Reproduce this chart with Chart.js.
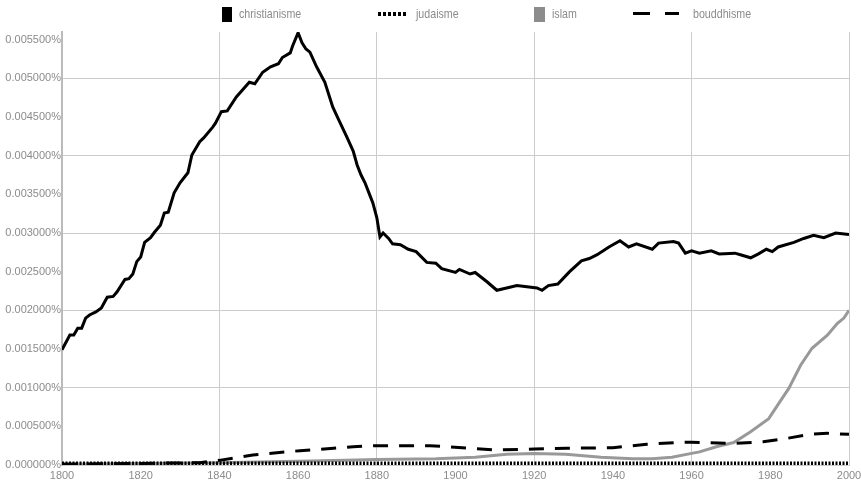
<!DOCTYPE html>
<html>
<head>
<meta charset="utf-8">
<script src="https://cdn.jsdelivr.net/npm/chart.js@4"></script>
<style>
  body { margin: 0; background: #fff; }
  #wrap { position: relative; width: 861px; height: 484px; }
  #legend span { position: absolute; }
  .lbl { font-family: "Liberation Sans", Arial, sans-serif; font-size: 13px; line-height: 13px; color: #8c8c8c; top: 7px; white-space: nowrap; transform: scaleX(0.82); transform-origin: 0 50%; }
</style>
</head>
<body>
<div id="wrap">
  <canvas id="myChart" width="861" height="484"></canvas>
  <div id="legend">
    <span style="left:222px;top:7px;width:10px;height:15px;background:#000"></span>
    <span class="lbl" style="left:239px">christianisme</span>
    <span style="left:378px;top:12px;width:30px;height:4px;background:repeating-linear-gradient(90deg,#000 0 3px,transparent 3px 5px)"></span>
    <span class="lbl" style="left:416px">judaisme</span>
    <span style="left:534px;top:7px;width:11px;height:15px;background:#8c8c8c"></span>
    <span class="lbl" style="left:552px">islam</span>
    <span style="left:633px;top:12px;width:46px;height:3px;background:linear-gradient(90deg,#000 0 17px,transparent 17px 32px,#000 32px 46px)"></span>
    <span class="lbl" style="left:693px">bouddhisme</span>
  </div>
</div>
<script>
// values are in percent of all words
const christYears = [1800, 1802, 1803, 1804, 1805, 1806, 1807, 1808.6, 1810, 1811.5, 1813, 1814, 1816, 1817, 1818, 1819, 1820, 1821, 1822.5, 1823.5, 1825, 1826, 1827, 1828.5, 1830, 1832, 1833, 1835, 1836, 1838.3, 1839, 1840.5, 1842, 1844.3, 1847.6, 1849, 1851, 1853, 1855, 1856, 1858, 1858.6, 1860, 1861, 1862, 1863, 1864.7, 1866.8, 1868.8, 1870, 1872.4, 1874, 1875, 1876, 1877, 1878, 1879, 1880, 1880.8, 1881.6, 1883, 1884, 1886, 1888, 1890, 1892.7, 1895, 1896.5, 1900, 1901, 1903.7, 1905, 1908, 1910.5, 1913, 1915.6, 1920.7, 1922, 1923.6, 1926, 1929, 1932, 1934, 1936, 1939, 1941.8, 1944, 1946, 1950, 1951.6, 1955.4, 1956.7, 1958.4, 1960, 1962, 1965, 1967, 1971, 1972.4, 1975, 1977, 1979, 1980.5, 1982, 1986, 1988.5, 1991, 1993.6, 1996.6, 2000];
const christValues = [0.00149, 0.00168, 0.00168, 0.00177, 0.00177, 0.0019, 0.00194, 0.00198, 0.00203, 0.00217, 0.00218, 0.00224, 0.0024, 0.00241, 0.00247, 0.00263, 0.00269, 0.00288, 0.00294, 0.00301, 0.0031, 0.00326, 0.00327, 0.00352, 0.00365, 0.00378, 0.00401, 0.00418, 0.00423, 0.00437, 0.00442, 0.00457, 0.00458, 0.00476, 0.00495, 0.00493, 0.00508, 0.00515, 0.00519, 0.00527, 0.00533, 0.00542, 0.00559, 0.00546, 0.00538, 0.00534, 0.00515, 0.00495, 0.00463, 0.0045, 0.00424, 0.00406, 0.00388, 0.00375, 0.00365, 0.00352, 0.00339, 0.0032, 0.00295, 0.003, 0.00293, 0.00286, 0.00285, 0.00279, 0.00276, 0.00262, 0.00261, 0.00254, 0.00249, 0.00253, 0.00247, 0.00249, 0.00237, 0.00226, 0.00229, 0.00232, 0.00229, 0.00226, 0.00232, 0.00234, 0.0025, 0.00264, 0.00267, 0.00272, 0.00282, 0.0029, 0.00282, 0.00286, 0.00279, 0.00287, 0.00289, 0.00287, 0.00274, 0.00277, 0.00274, 0.00277, 0.00273, 0.00274, 0.00272, 0.00268, 0.00273, 0.00279, 0.00276, 0.00282, 0.00288, 0.00293, 0.00297, 0.00294, 0.003, 0.00298];

const judaYears = [1800, 1850, 1900, 1950, 2000];
const judaValues = [0.00002, 0.00002, 0.00002, 0.00002, 0.00002];

const islamYears = [1800, 1820, 1840, 1860, 1872, 1880, 1895, 1905, 1913, 1920, 1928, 1937, 1945, 1950, 1955, 1960, 1962, 1966.5, 1970.7, 1975, 1979.6, 1982.2, 1984.7, 1987.7, 1990.6, 1994.5, 1997, 1998.7, 2000];
const islamValues = [0.00001, 0.00002, 0.00003, 0.00005, 0.00006, 0.00007, 0.00008, 0.0001, 0.00014, 0.00015, 0.00014, 0.0001, 0.00008, 0.00008, 0.0001, 0.00015, 0.00017, 0.00024, 0.00029, 0.00043, 0.0006, 0.0008, 0.00099, 0.00129, 0.00151, 0.00168, 0.00183, 0.0019, 0.002];

const buddhYears = [1800, 1820, 1835, 1840, 1848.5, 1860.5, 1869, 1874, 1880, 1893.5, 1903.7, 1910.5, 1920, 1928.3, 1940, 1948.6, 1957, 1960, 1970.6, 1978.2, 1984.3, 1990.2, 1994.5, 2000];
const buddhValues = [0.00001, 0.00002, 0.00003, 0.00006, 0.00013, 0.000185, 0.000216, 0.000237, 0.00025, 0.00025, 0.000216, 0.000194, 0.000207, 0.000216, 0.000224, 0.000268, 0.000294, 0.000294, 0.00028, 0.0003, 0.000345, 0.000397, 0.00041, 0.000397];

const yTickValues = [0, 0.0005, 0.001, 0.0015, 0.002, 0.0025, 0.003, 0.0035, 0.004, 0.0045, 0.005, 0.0055];

function points(years, values) {
  return years.map((y, i) => ({x: y, y: values[i]}));
}

const clear = "rgba(0,0,0,0)";
const gridGrey = "#cccccc";

new Chart("myChart", {
  type: "line",
  data: {
    datasets: [
      { label: "judaisme", data: points(judaYears, judaValues), borderColor: "#000", borderWidth: 4, borderDash: [2, 1.5], order: 0 },
      { label: "christianisme", data: points(christYears, christValues), borderColor: "#000", borderWidth: 3, order: 1 },
      { label: "bouddhisme", data: points(buddhYears, buddhValues), borderColor: "#000", borderWidth: 3, borderDash: [15, 11], order: 2 },
      { label: "islam", data: points(islamYears, islamValues), borderColor: "#999", borderWidth: 3, order: 3 }
    ]
  },
  options: {
    responsive: false,
    animation: false,
    layout: {padding: {top: 32, right: 12, left: 0, bottom: 0}},
    elements: {point: {radius: 0}, line: {tension: 0, fill: false}},
    plugins: {legend: {display: false}, tooltip: {enabled: false}},
    scales: {
      x: {
        type: "linear",
        min: 1800,
        max: 2000,
        afterFit: s => { s.height = 19; s.paddingRight = 0; s.paddingLeft = 0; },
        border: {color: gridGrey, width: 1},
        grid: {
          drawTicks: false,
          color: c => (c.tick && c.tick.value % 40 === 0 && c.tick.value !== 1800) ? gridGrey : clear
        },
        ticks: {
          stepSize: 20,
          padding: 4,
          color: "#8c8c8c",
          font: {family: "'Liberation Sans', Arial", size: 11},
          maxRotation: 0,
          callback: v => String(v)
        }
      },
      y: {
        min: 0,
        max: 0.0056,
        afterFit: s => { s.width = 62; },
        afterBuildTicks: s => { s.ticks = yTickValues.map(v => ({value: v})); },
        border: {color: "#bbbbbb", width: 2},
        grid: {
          drawTicks: false,
          color: c => (c.tick && c.tick.value > 0 && Math.round(c.tick.value * 1e4) % 10 === 0) ? gridGrey : clear
        },
        ticks: {
          padding: 1,
          color: "#8c8c8c",
          font: {family: "'Liberation Sans', Arial", size: 11},
          callback: v => v.toFixed(6) + "%"
        }
      }
    }
  }
});
</script>
</body>
</html>
